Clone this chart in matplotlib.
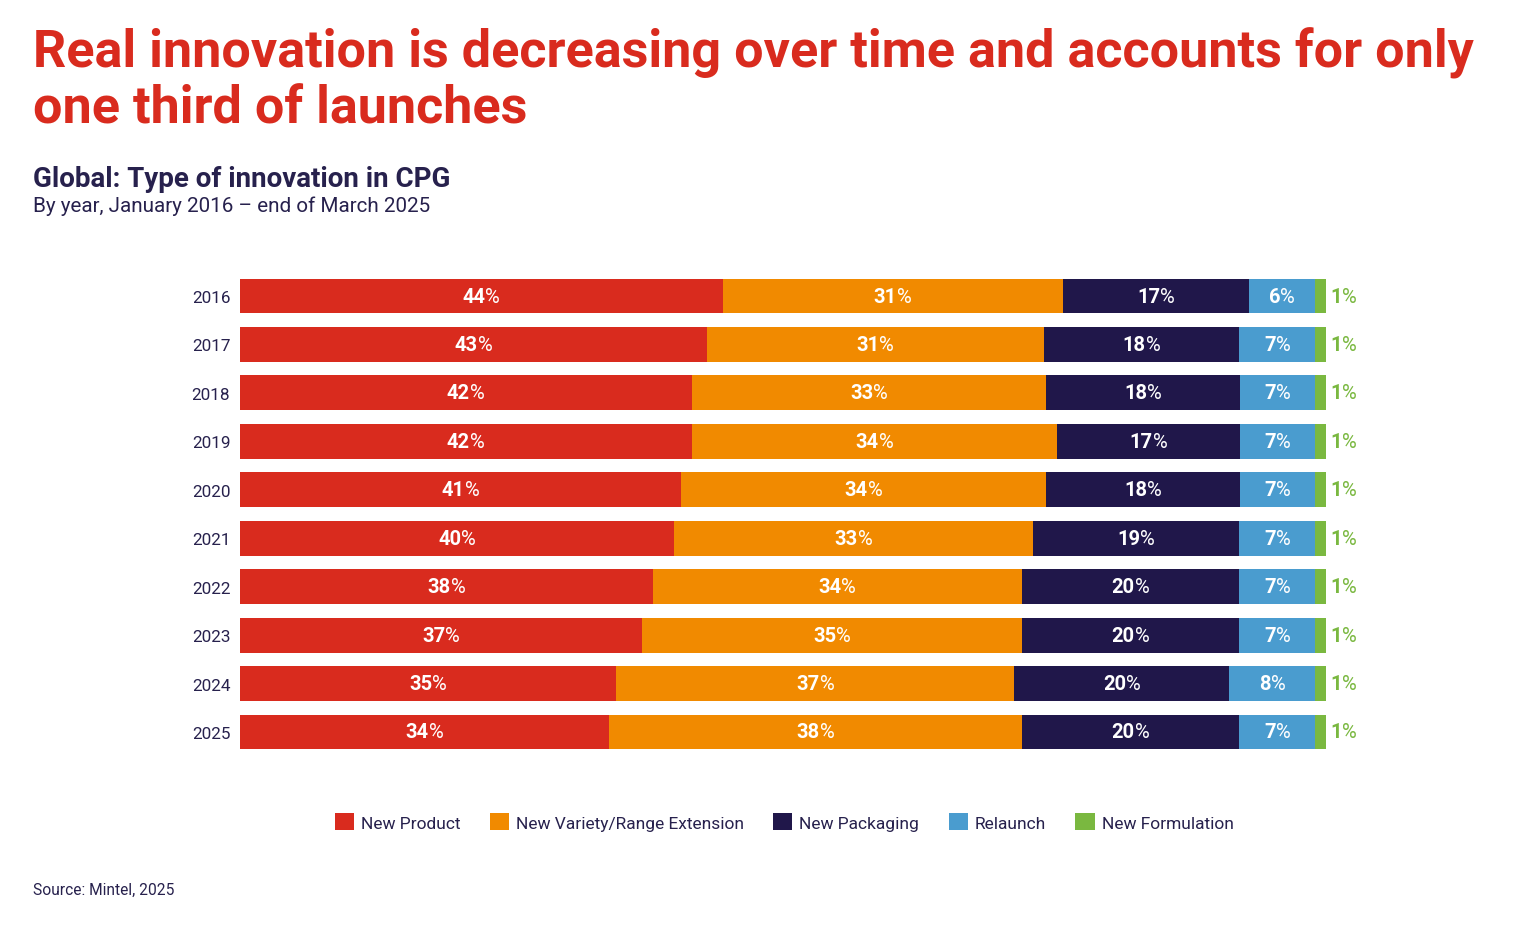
import matplotlib
matplotlib.use("Agg")
import matplotlib.pyplot as plt
from matplotlib.patches import Patch
from matplotlib.offsetbox import TextArea, HPacker, AnnotationBbox
import numpy as np

plt.rcParams['font.family'] = ['Roboto', 'DejaVu Sans']

years = ['2016', '2017', '2018', '2019', '2020', '2021', '2022', '2023', '2024', '2025']
series_names = ['New Product', 'New Variety/Range Extension', 'New Packaging', 'Relaunch', 'New Formulation']
new_product = [44, 43, 42, 42, 41, 40, 38, 37, 35, 34]
new_variety = [31, 31, 33, 34, 34, 33, 34, 35, 37, 38]
new_packaging = [17, 18, 18, 17, 18, 19, 20, 20, 20, 20]
relaunch = [6, 7, 7, 7, 7, 7, 7, 7, 8, 7]
new_formulation = [1, 1, 1, 1, 1, 1, 1, 1, 1, 1]

colors = ['#D92B1E', '#F18A00', '#20174A', '#4A9CCF', '#7AB840']
text_dark = '#27214D'

series = [new_product, new_variety, new_packaging, relaunch, new_formulation]
data = np.array(series, dtype=float)
totals = data.sum(axis=0)
shares = data / totals * 100

fig = plt.figure(figsize=(15.25, 9.29), dpi=100)
ax = fig.add_axes([240/1525, 1-757.2/929, 1086/1525, (757.2-272.8)/929])

y = np.arange(len(years))
left = np.zeros(len(years))
for i, (name, col) in enumerate(zip(series_names, colors)):
    ax.barh(y, shares[i], left=left, height=0.72, color=col, label=name, edgecolor='none')
    for j in range(len(years)):
        val = series[i][j]
        if i < 4:
            cx = left[j] + shares[i][j] / 2
            box = HPacker(children=[
                TextArea(f"{val}", textprops=dict(color='white', fontsize=14.5, fontweight='bold')),
                TextArea("%", textprops=dict(color='white', fontsize=14.5, fontweight='normal'))],
                align='baseline', pad=0, sep=0)
            ab = AnnotationBbox(box, (cx, y[j]), frameon=False, box_alignment=(0.5, 0.5), pad=0)
            ax.add_artist(ab)
        else:
            cx = left[j] + shares[i][j]
            box = HPacker(children=[
                TextArea(f"{val}", textprops=dict(color=col, fontsize=14.5, fontweight='bold')),
                TextArea("%", textprops=dict(color=col, fontsize=14.5, fontweight='normal'))],
                align='baseline', pad=0, sep=0)
            ab = AnnotationBbox(box, (cx, y[j]), xybox=(3.5, 0), xycoords='data',
                                boxcoords='offset points', frameon=False,
                                box_alignment=(0, 0.5), pad=0)
            ax.add_artist(ab)
    left = left + shares[i]

ax.set_xlim(0, 100)
ax.set_ylim(len(years) - 0.5, -0.5)
ax.set_yticks(y)
ax.set_yticklabels(years, fontsize=12.3, color=text_dark)
ax.tick_params(axis='y', length=0, pad=7)
ax.set_xticks([])
for s in ax.spines.values():
    s.set_visible(False)

fig.text(33/1525, 1-124/929, "Real innovation is decreasing over time and accounts for only\none third of launches",
         fontsize=37.5, fontweight='bold', color='#D92B1E', ha='left', va='baseline', linespacing=1.15)
fig.text(33/1525, 1-187/929, "Global: Type of innovation in CPG", fontsize=20, fontweight='bold',
         color=text_dark, ha='left', va='baseline')
fig.text(33/1525, 1-212/929, "By year, January 2016 \u2013 end of March 2025", fontsize=14.85,
         color=text_dark, ha='left', va='baseline')
fig.text(33/1525, 1-895/929, "Source: Mintel, 2025", fontsize=11.2, color=text_dark,
         ha='left', va='baseline')

handles = [Patch(facecolor=c, edgecolor='none', label=n) for c, n in zip(colors, series_names)]
leg = fig.legend(handles=handles, loc='center', bbox_to_anchor=(784/1525, 1-823/929), ncol=5,
                 frameon=False, fontsize=12.5, handlelength=1.1, handleheight=1.1,
                 handletextpad=0.4, columnspacing=1.7)
for t in leg.get_texts():
    t.set_color(text_dark)

fig.savefig("out.png", dpi=100)
